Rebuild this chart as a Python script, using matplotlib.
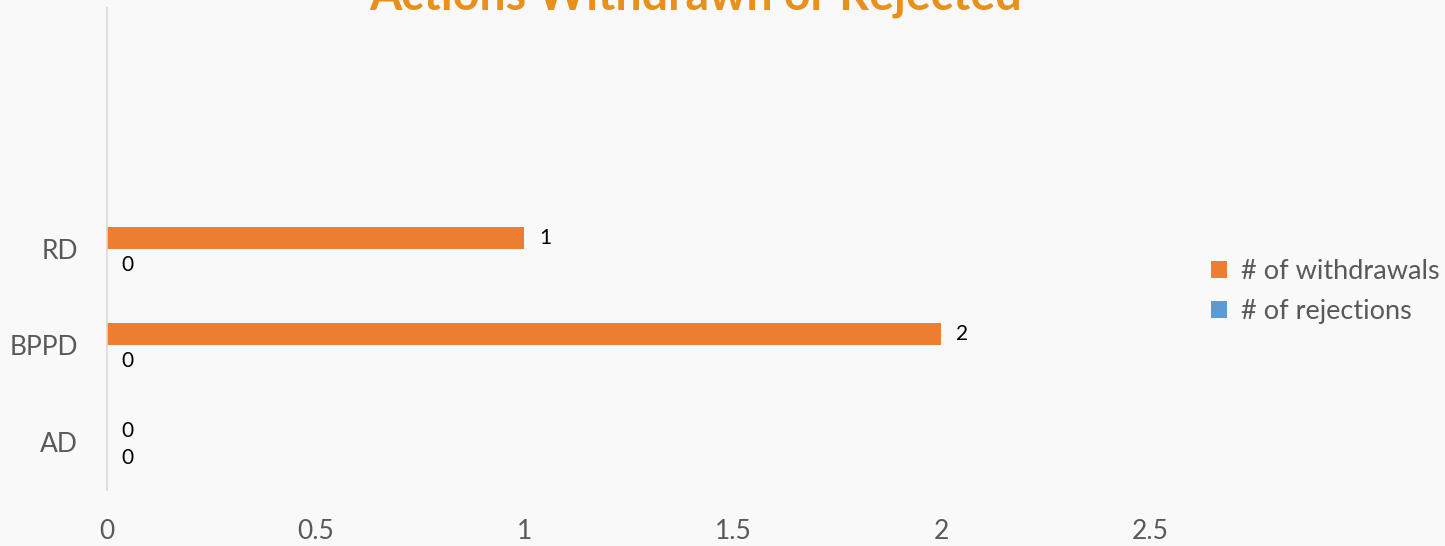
import numpy as np
import matplotlib.pyplot as plt

categories = ['AD', 'BPPD', 'RD', '', '']
withdrawals = [0, 2, 1, None, None]
rejections = [0, 0, 0, None, None]
xticks = [0, 0.5, 1, 1.5, 2, 2.5]

orange = '#ED7D31'
blue = '#5B9BD5'
bg = '#F9F9F9'

plt.rcParams['font.family'] = ['Lato', 'DejaVu Sans']

fig = plt.figure(figsize=(14.45, 5.46), dpi=100, facecolor=bg)
ax = fig.add_axes([107 / 1445, 56 / 546, (1150 - 107) / 1445, (538 - 56) / 546])
ax.set_facecolor(bg)

y = np.arange(len(categories))
h = 0.228
w_vals = [v if v is not None else 0 for v in withdrawals]
r_vals = [v if v is not None else 0 for v in rejections]
bw = ax.barh(y + h / 2, w_vals, height=h, color=orange, label='# of withdrawals')
br = ax.barh(y - h / 2, r_vals, height=h, color=blue, label='# of rejections')

for i in range(len(categories)):
    if withdrawals[i] is not None:
        ax.text(withdrawals[i] + 0.035, y[i] + h / 2, str(withdrawals[i]),
                va='center', ha='left', fontsize=15, color='black')
    if rejections[i] is not None:
        ax.text(rejections[i] + 0.035, y[i] - h / 2 - 0.05, str(rejections[i]),
                va='center', ha='left', fontsize=15, color='black')

ax.set_ylim(-0.5, len(categories) - 0.5)
ax.set_xlim(0, 2.5)
ax.set_yticks(y)
ax.set_yticklabels(categories, fontsize=19, color='#595959')
ax.set_xticks(xticks)
ax.set_xticklabels([f'{t:g}' for t in xticks], fontsize=19, color='#595959')
ax.tick_params(axis='both', length=0)
ax.tick_params(axis='y', pad=21)
ax.tick_params(axis='x', pad=21)
for s in ['top', 'right', 'bottom']:
    ax.spines[s].set_visible(False)
ax.spines['left'].set_color('#D9D9D9')
ax.spines['left'].set_linewidth(1.2)

fig.legend(handles=[bw, br], loc='upper left', bbox_to_anchor=(1200 / 1445, 1 - 248 / 546),
           frameon=False, fontsize=19.5, labelcolor='#595959', handlelength=0.6,
           handleheight=0.6, handletextpad=0.5, labelspacing=0.55, borderaxespad=0)

# title sits partly above the top edge, as in the source image
fig.text(696 / 1445, 1 - 9 / 546, 'Actions Withdrawn or Rejected', ha='center', va='baseline',
         fontsize=33.5, fontweight='bold', color='#E8901C')

fig.savefig('out.png', dpi=100, facecolor=bg)
